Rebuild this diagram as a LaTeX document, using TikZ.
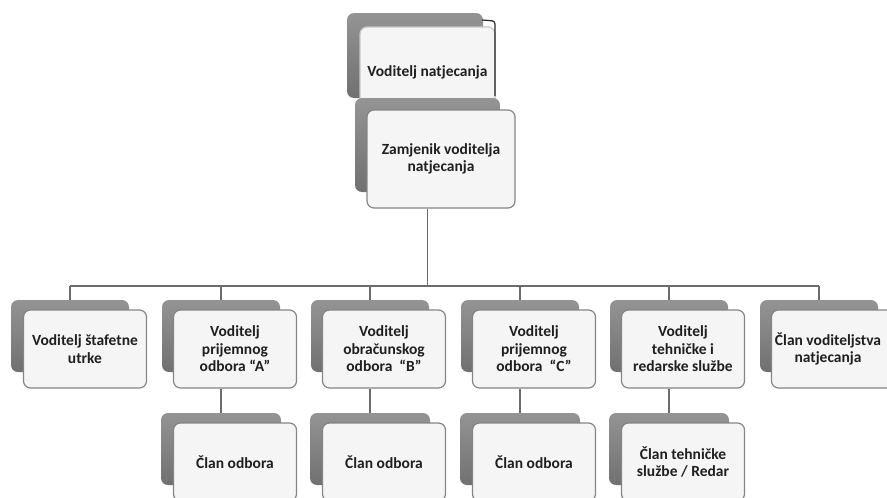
\documentclass[tikz,border=0pt]{standalone}
\usepackage{fontspec}
\setmainfont{Carlito}
\begin{document}
\begin{tikzpicture}[x=1pt,y=-1pt]
\tikzset{
  back/.style={draw=none, rounded corners=7pt, top color=black!42, bottom color=black!56, inner sep=0pt},
  front/.style={draw=black!48, line width=1.2pt, rounded corners=7pt, fill=black!4, inner sep=0pt,
     align=center, text=black!88, font=\bfseries\fontsize{15.5}{17.5}\selectfont},
  conn/.style={draw=black!58, line width=1.2pt},
  rowback/.style={back, minimum width=118, minimum height=72},
  rowfront/.style={front, minimum width=123, minimum height=78},
}
\useasboundingbox (0,0) rectangle (887,498);
\begin{scope}
\clip (0,0) rectangle (887,498);
% bus
\coordinate (busL) at (70,286);
\coordinate (busR) at (819,286);
% top boxes
\node[back, minimum width=136, minimum height=85] (tg) at (415,55.5) {};
\node[front, draw=black!22, minimum width=135, minimum height=90] (tf) at (427.5,72) {Voditelj natjecanja};
\draw[black!85, line width=1.2pt, rounded corners=3pt] (482,20) -- (495,21) -- (495,96);
\node[back, minimum width=145, minimum height=94] (zg) at (427.5,145) {};
\node[front, minimum width=148, minimum height=98] (zf) at (441,159) {Zamjenik voditelja\\natjecanja};
% connectors
\draw[conn] (zf.south -| zg.south) -- (zg.south |- busL);
\draw[conn] (busL) -- (busR);
% row 1
\foreach \c/\n in {70/1,221/2,370/3,520/4,669/5,819/6}{
  \node[rowback] (g\n) at (\c,336) {};
  \draw[conn] (g\n.north) -- (g\n.north |- busL);
}
\node[rowfront] (f1) at (85,349) {Voditelj štafetne\\utrke};
\node[rowfront] (f2) at (235,349) {Voditelj\\prijemnog\\odbora “A”};
\node[rowfront] (f3) at (384,349) {Voditelj\\obračunskog\\odbora \ “B”};
\node[rowfront] (f4) at (534,349) {Voditelj\\prijemnog\\odbora \ “C”};
\node[rowfront] (f5) at (683,349) {Voditelj\\tehničke i\\redarske službe};
\node[rowfront] (f6) at (833,349) {\hspace*{-10pt}Član voditeljstva\\\hspace*{-10pt}natjecanja};
% row 2
\foreach \c/\n in {221/2,370/3,520/4,669/5}{
  \node[back, minimum width=120, minimum height=72] (h\n) at (\c,449) {};
  \draw[conn] (f\n.south -| g\n.south) -- (h\n.north);
}
\node[rowfront] (k2) at (235,462) {Član odbora};
\node[rowfront] (k3) at (384,462) {Član odbora};
\node[rowfront] (k4) at (534,462) {Član odbora};
\node[rowfront] (k5) at (683,462) {Član tehničke\\službe / Redar};
\end{scope}
\end{tikzpicture}
\end{document}
